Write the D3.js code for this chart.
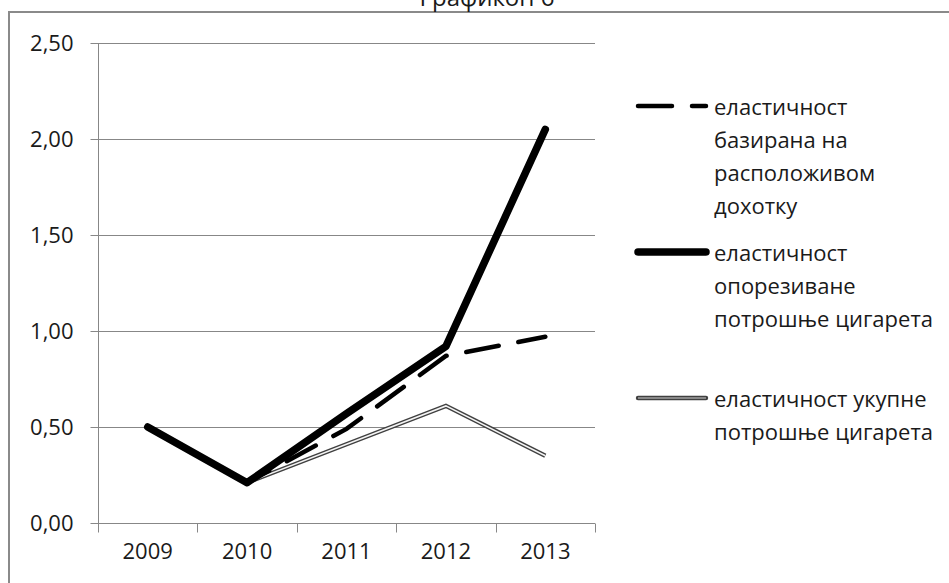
<!DOCTYPE html>
<html>
<head>
<meta charset="utf-8">
<script src="https://cdn.jsdelivr.net/npm/d3@7"></script>
<style>
  html, body { margin: 0; padding: 0; background: #fff; }
  svg { display: block; font-family: "Open Sans", "Noto Sans", sans-serif; }
</style>
</head>
<body>
<svg id="chart" width="949" height="583"></svg>
<script>
// ---- data ----
const title = "Графикон 6";
const years = ["2009", "2010", "2011", "2012", "2013"];
const yTicks = [0, 0.5, 1.0, 1.5, 2.0, 2.5];
const incomeElasticity = [0.50, 0.21, 0.49, 0.87, 0.97];   // еластичност базирана на расположивом дохотку
const taxedElasticity  = [0.50, 0.21, 0.57, 0.92, 2.05];   // еластичност опорезиване потрошње цигарета
const totalElasticity  = [0.50, 0.21, 0.41, 0.61, 0.35];   // еластичност укупне потрошње цигарета
const legendIncome = ["еластичност", "базирана на", "расположивом", "дохотку"];
const legendTaxed  = ["еластичност", "опорезиване", "потрошње цигарета"];
const legendTotal  = ["еластичност укупне", "потрошње цигарета"];

(function () {
// ---- layout ----
const svg = d3.select("#chart");
const pLeft = 98, pRight = 595, pTop = 43, pBottom = 523;
const gridColor = "#878787";
const textColor = "#1a1a1a";
const fs = 22;

const x = d3.scaleBand().domain(years).range([pLeft, pRight]);
const cx = d => x(d) + x.bandwidth() / 2;
const y = d3.scaleLinear().domain([0, 2.5]).range([pBottom, pTop]);
const locale = d3.formatLocale({decimal: ",", thousands: ".", grouping: [3], currency: ["", ""]});
const fmt = locale.format(".2f");

// outer frame (top + left visible)
svg.append("line").attr("x1", 8).attr("x2", 949).attr("y1", 12).attr("y2", 12)
  .attr("stroke", "#8a8a8a").attr("stroke-width", 2);
svg.append("line").attr("x1", 9).attr("x2", 9).attr("y1", 12).attr("y2", 583)
  .attr("stroke", "#8a8a8a").attr("stroke-width", 2);

// title (partially cut off at the top, as in the reference)
svg.append("text").attr("x", 487).attr("y", 6).attr("text-anchor", "middle")
  .attr("font-size", 24).attr("fill", textColor).text(title);

// gridlines
svg.append("g").selectAll("line").data(yTicks.filter(v => v > 0)).join("line")
  .attr("x1", pLeft).attr("x2", pRight)
  .attr("y1", d => Math.round(y(d)) + 0.5).attr("y2", d => Math.round(y(d)) + 0.5)
  .attr("stroke", gridColor).attr("stroke-width", 1);

// y axis
const yAxis = svg.append("g").attr("transform", `translate(${pLeft + 0.5},0)`)
  .call(d3.axisLeft(y).tickValues(yTicks).tickFormat(fmt).tickSize(8).tickPadding(17));
yAxis.select(".domain").attr("stroke", gridColor).attr("d", `M0,${pTop}V${pBottom}`);
yAxis.selectAll(".tick line").attr("stroke", gridColor);
yAxis.selectAll(".tick text").attr("font-size", fs).attr("fill", textColor)
  .attr("font-family", "Open Sans");

// x axis
const xAxis = svg.append("g").attr("transform", `translate(0,${pBottom + 0.5})`)
  .call(d3.axisBottom(x).tickSize(0).tickPadding(20));
xAxis.select(".domain").attr("stroke", gridColor).attr("d", `M${pLeft},0H${pRight}`);
xAxis.selectAll(".tick text").attr("font-size", fs).attr("fill", textColor)
  .attr("font-family", "Open Sans");
const bounds = years.map(d => x(d)).concat([x.range()[1]]);
xAxis.append("g").selectAll("line").data(bounds).join("line")
  .attr("x1", d => Math.round(d) + 0.5).attr("x2", d => Math.round(d) + 0.5)
  .attr("y1", 0).attr("y2", 9).attr("stroke", gridColor);

// lines
const line = d3.line().x((d, i) => cx(years[i])).y(d => y(d));

// total (double line)
svg.append("path").datum(totalElasticity).attr("d", line).attr("fill", "none")
  .attr("stroke", "#404040").attr("stroke-width", 4.4).attr("stroke-linejoin", "miter");
svg.append("path").datum(totalElasticity).attr("d", line).attr("fill", "none")
  .attr("stroke", "#f4f4f4").attr("stroke-width", 1.6).attr("stroke-linejoin", "miter");

// income (long dashed)
svg.append("path").datum(incomeElasticity).attr("d", line).attr("fill", "none")
  .attr("stroke", "#000").attr("stroke-width", 4.5).attr("stroke-linecap", "round")
  .attr("stroke-dasharray", "33,20");

// taxed (thick)
svg.append("path").datum(taxedElasticity).attr("d", line).attr("fill", "none")
  .attr("stroke", "#000").attr("stroke-width", 7.5).attr("stroke-linecap", "round")
  .attr("stroke-linejoin", "round");

// legend
const lx0 = 638, lx1 = 706, tx = 714, lh = 33;
function legendText(lines, y0) {
  const t = svg.append("text").attr("font-size", fs).attr("fill", textColor)
    .attr("dominant-baseline", "central");
  lines.forEach((s, i) => t.append("tspan").attr("x", tx).attr("y", y0 + i * lh).text(s));
}
// income
svg.append("line").attr("x1", lx0).attr("x2", lx1).attr("y1", 106).attr("y2", 106)
  .attr("stroke", "#000").attr("stroke-width", 4.5).attr("stroke-linecap", "round")
  .attr("stroke-dasharray", "34,20");
legendText(legendIncome, 106);
// taxed
svg.append("line").attr("x1", lx0).attr("x2", lx1).attr("y1", 252).attr("y2", 252)
  .attr("stroke", "#000").attr("stroke-width", 7.5).attr("stroke-linecap", "round");
legendText(legendTaxed, 252);
// total
svg.append("line").attr("x1", lx0).attr("x2", lx1).attr("y1", 398).attr("y2", 398)
  .attr("stroke", "#404040").attr("stroke-width", 4.4).attr("stroke-linecap", "round");
svg.append("line").attr("x1", lx0).attr("x2", lx1).attr("y1", 398).attr("y2", 398)
  .attr("stroke", "#a0a0a0").attr("stroke-width", 1.6);
legendText(legendTotal, 398);
})();
</script>
</body>
</html>
